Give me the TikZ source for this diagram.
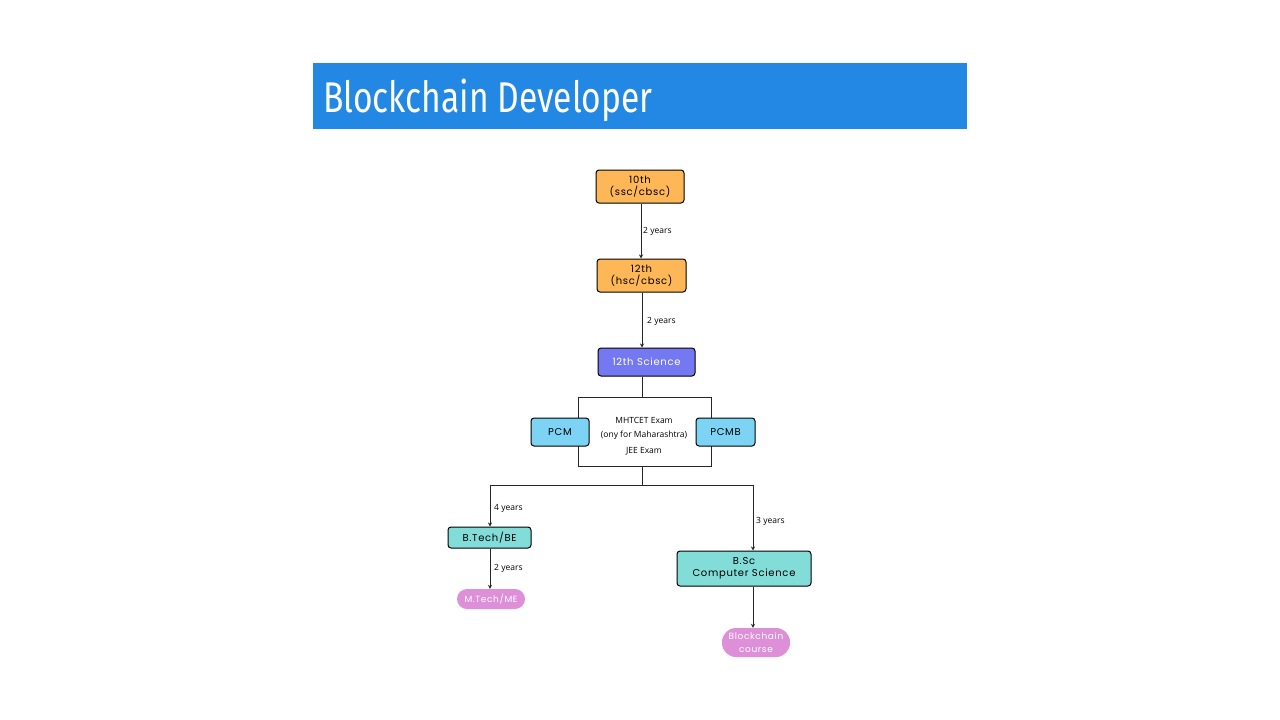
\documentclass[tikz,border=0pt]{standalone}
\usepackage{fontspec}
\setmainfont{Open Sans}
\newfontfamily\titlefont[FakeStretch=0.78]{Fira Sans}
\newfontfamily\boxfont[LetterSpace=7]{Poppins}
\newfontfamily\labfont{Open Sans}
\usetikzlibrary{arrows.meta}
\definecolor{titleblue}{HTML}{2288E3}
\definecolor{orangebox}{HTML}{FDB757}
\definecolor{scibox}{HTML}{7479F2}
\definecolor{pcmbox}{HTML}{7DD3F3}
\definecolor{tealbox}{HTML}{82DCD8}
\definecolor{pinkbox}{HTML}{DD90D8}
\begin{document}
\begin{tikzpicture}[x=1pt,y=-1pt,
  stagebox/.style={draw=black,line width=1pt,rounded corners=3pt,inner sep=0pt,align=center,
    font=\boxfont\fontsize{10}{12}\selectfont},
  pillbox/.style={fill=pinkbox,rounded corners=10pt,inner sep=0pt,align=center,text=white,
    font=\boxfont\fontsize{9}{13}\selectfont},
  conn/.style={draw=black!85,line width=1pt},
  arr/.style={conn,-{Stealth[length=4pt,width=4pt]}},
  yrs/.style={font=\labfont\fontsize{8.5}{9}\selectfont,anchor=west,inner sep=0pt}
]
\useasboundingbox (0,0) rectangle (1280,720);
\fill[white] (0,0) rectangle (1280,720);
% title
\fill[titleblue] (313,63) rectangle (967,129);
\node[anchor=base west,inner sep=0pt,text=white,font=\titlefont\fontsize{43}{43}\selectfont] (title) at (323,112) {Blockchain Developer};
% stages
\node[stagebox,fill=orangebox,minimum width=88pt,minimum height=33pt] (s10) at (640,186.5) {10th\\(ssc/cbsc)};
\node[stagebox,fill=orangebox,minimum width=89pt,minimum height=33pt] (s12) at (641.5,275.5) {12th\\(hsc/cbsc)};
\node[stagebox,fill=scibox,text=white,minimum width=97pt,minimum height=28pt] (sci) at (646.5,362) {12th Science};
% exam rectangle
\coordinate (rtop) at (642,397);
\coordinate (rbot) at (642,466);
\draw[conn] (sci.south -| rtop) -- (rtop);
\draw[conn] (578,397) rectangle (711,466);
\node[align=center,inner sep=0pt,font=\labfont\fontsize{8.5}{14}\selectfont] (exam) at (644,428) {MHTCET Exam\\(ony for Maharashtra)};
\node[inner sep=0pt,font=\labfont\fontsize{8.5}{9}\selectfont] (jee) at (644,451) {JEE Exam};
\node[stagebox,fill=pcmbox,minimum width=58pt,minimum height=28pt] (pcm) at (560,432) {PCM};
\node[stagebox,fill=pcmbox,minimum width=59pt,minimum height=28pt] (pcmb) at (725.5,432) {PCMB};
% branches
\node[stagebox,fill=tealbox,minimum width=83pt,minimum height=21pt] (btech) at (489.5,537.5) {B.Tech/BE};
\node[stagebox,fill=tealbox,minimum width=134pt,minimum height=35pt] (bsc) at (744,568.5) {B.Sc\\Computer Science};
\node[pillbox,minimum width=68pt,minimum height=20pt] (mtech) at (491,599) {M.Tech/ME};
\node[pillbox,minimum width=68pt,minimum height=29pt,rounded corners=14pt] (bcc) at (756,642.5) {Blockchain\\course};
\coordinate (split) at (642,485);
\coordinate (lsplit) at (490,485);
\coordinate (rsplit) at (753,485);
% connectors
\draw[arr] (s10.south -| 641,0) -- (s12.north -| 641,0);
\draw[arr] (s12.south -| 642,0) -- (sci.north -| 642,0);
\draw[conn] (rbot) -- (split);
\draw[conn] (lsplit) -- (rsplit);
\draw[arr] (lsplit) -- (btech.north -| lsplit);
\draw[arr] (rsplit) -- (bsc.north -| rsplit);
\draw[arr] (btech.south -| lsplit) -- (mtech.north -| lsplit);
\draw[arr] (bsc.south -| rsplit) -- (bcc.north -| rsplit);
% labels
\node[yrs] (l1) at (643,231) {2 years};
\node[yrs] (l2) at (647,321) {2 years};
\node[yrs] (l3) at (494,508) {4 years};
\node[yrs] (l4) at (756,521) {3 years};
\node[yrs] (l5) at (494,568) {2 years};
\end{tikzpicture}
\end{document}
